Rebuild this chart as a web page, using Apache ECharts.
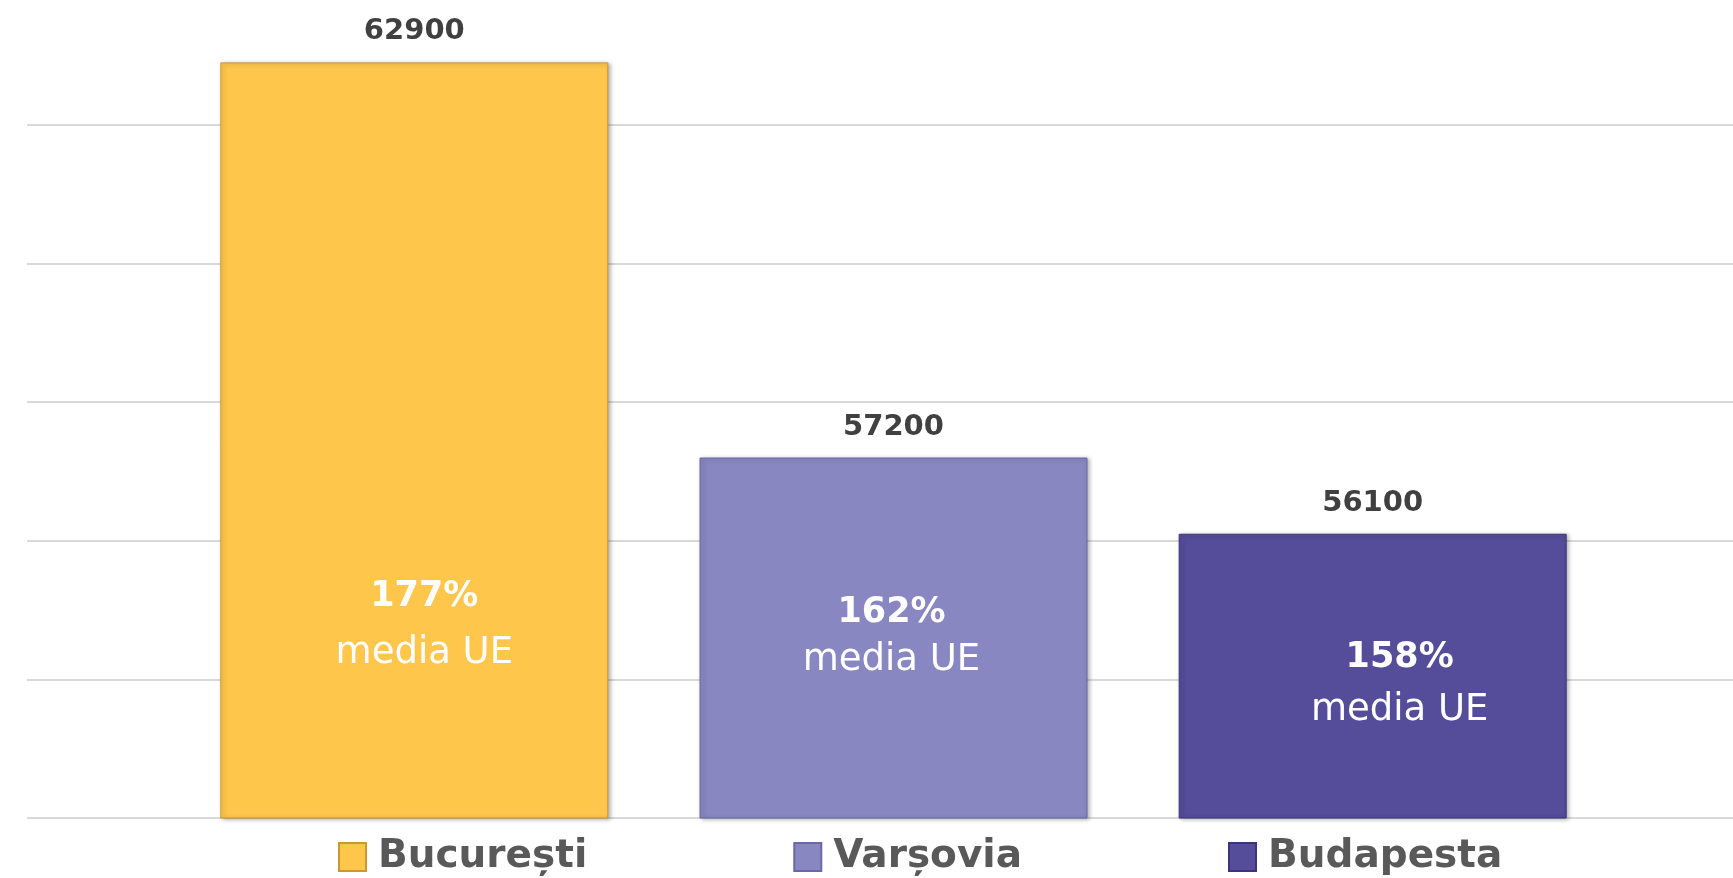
<!DOCTYPE html>
<html>
<head>
<meta charset="utf-8">
<title>PIB per locuitor</title>
<script src="https://cdn.jsdelivr.net/npm/echarts@6/dist/echarts.min.js"></script>
<style>
  html, body { margin: 0; padding: 0; background: #fff; }
  #chart { width: 1733px; height: 878px; }
</style>
</head>
<body>
<div id="chart"></div>
<script>
// date
const category = ['PIB'];
const cities = ['București', 'Varșovia', 'Budapesta'];
const values = [62900, 57200, 56100];
const euShare = ['177%', '162%', '158%'];
const axisMin = 52000;
const axisMax = 63800;
const axisStep = 2000;

// culori
const cityColors = ['#FEC64B', '#8987C2', '#554C9A'];
const edgeColors = ['#C9982F', '#6B69A4', '#3D3578'];
// ultima linie (la max) nu se vede in original
const gridColors = ['#D9D9D9', '#D9D9D9', '#D9D9D9', '#D9D9D9', '#D9D9D9', '#D9D9D9', 'rgba(0,0,0,0)'];

// pozitia textului din interiorul barelor
const innerLabel = [
  { pos: ['50%', '74.4%'], dx: 10, lh: 57 },
  { pos: ['50%', '49.6%'], dx: -2, lh: 48 },
  { pos: ['50%', '52.8%'], dx: 27, lh: 52 }
];

const font = '"DejaVu Sans", sans-serif';

const chart = echarts.init(document.getElementById('chart'));

const series = cities.map((name, i) => ({
  name,
  type: 'bar',
  barWidth: 388,
  barGap: '23.5%',
  data: [values[i]],
  itemStyle: {
    color: cityColors[i],
    borderColor: edgeColors[i],
    borderWidth: 1,
    shadowBlur: 4,
    shadowColor: 'rgba(0,0,0,0.3)',
    shadowOffsetX: 2,
    shadowOffsetY: 1
  },
  label: {
    show: true,
    position: innerLabel[i].pos,
    offset: [innerLabel[i].dx, 0],
    align: 'center',
    verticalAlign: 'middle',
    formatter: '{pct|' + euShare[i] + '}\n{sub|media UE}',
    rich: {
      pct: { fontSize: 35, fontWeight: 'bold', color: '#fff', lineHeight: innerLabel[i].lh, fontFamily: font },
      sub: { fontSize: 37, color: '#fff', lineHeight: innerLabel[i].lh, fontFamily: font }
    }
  },
  markPoint: {
    symbol: 'circle',
    symbolSize: 0,
    silent: true,
    data: [{ type: 'max' }],
    label: {
      show: true,
      position: 'top',
      distance: 16,
      color: '#404040',
      fontSize: 29,
      fontWeight: 'bold',
      fontFamily: font,
      formatter: '{c}'
    }
  },
  emphasis: { disabled: true }
}));

const option = {
  animation: false,
  backgroundColor: '#fff',
  grid: {
    left: 27,
    right: -27,
    top: 0,
    bottom: 60,
    outerBoundsMode: 'none'
  },
  xAxis: {
    type: 'category',
    data: category,
    show: false
  },
  yAxis: {
    type: 'value',
    min: axisMin,
    max: axisMax,
    interval: axisStep,
    axisLabel: { show: false },
    axisLine: { show: false },
    axisTick: { show: false },
    splitLine: { show: true, lineStyle: { color: gridColors, width: 2 } }
  },
  legend: {
    data: cities,
    left: 338,
    top: 837,
    padding: 0,
    icon: 'rect',
    itemWidth: 27,
    itemHeight: 28,
    itemGap: 206,
    selectedMode: false,
    textStyle: {
      fontSize: 39,
      fontWeight: 'bold',
      color: '#595959',
      fontFamily: font,
      lineHeight: 40,
      padding: [0, 0, 0, 7]
    }
  },
  series
};

chart.setOption(option);
</script>
</body>
</html>
